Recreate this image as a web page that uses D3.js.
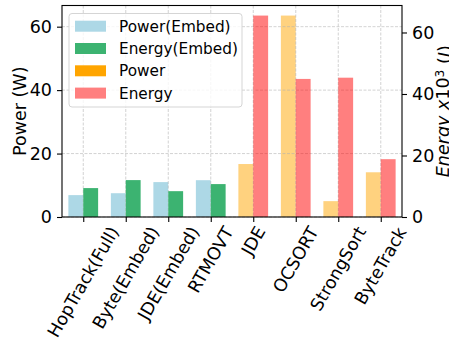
<!DOCTYPE html>
<html>
<head>
<meta charset="utf-8">
<script src="https://cdn.jsdelivr.net/npm/d3@7"></script>
<style>
  html, body { margin: 0; padding: 0; background: #fff; }
  svg { display: block; }
  text { font-family: "DejaVu Sans", sans-serif; fill: #000; }
</style>
</head>
<body>
<svg id="chart" width="449" height="344"></svg>
<script>
// ---- data ----
const categories = ["HopTrack(Full)", "Byte(Embed)", "JDE(Embed)", "RTMOVT", "JDE", "OCSORT", "StrongSort", "ByteTrack"];
const power  = [6.9, 7.5, 11.0, 11.6, 16.7, 63.5, 5.0, 14.1];     // W (left axis)
const energy = [9.4, 12.0, 8.4, 10.7, 65.5, 44.9, 45.3, 18.8];    // x10^3 J (right axis)
const isEmbed = [true, true, true, true, false, false, false, false];
const leftTicks = [0, 20, 40, 60];
const rightTicks = [0, 20, 40, 60];
const legendLabels = ["Power(Embed)", "Energy(Embed)", "Power", "Energy"];

// ---- styles ----
const colPowerEmbed = "#add8e6", colEnergyEmbed = "#3cb371";
const colPower = "#ffa500", colEnergy = "#ff0000";
const legendColors = ["#add8e6", "#3cb371", "#ffa500", "#ff7f7f"];

const W = 449, H = 344;
const L = 62, R = 402, T = 5.5, B = 217;
const barW = 0.35;
const fs = 17.5, legendFs = 15.3;

const svg = d3.select("#chart");

const x = d3.scaleLinear().domain([-0.5, categories.length - 0.5]).range([L, R]);
const yL = d3.scaleLinear().domain([0, d3.max(power) * 1.05]).range([B, T]);
const yR = d3.scaleLinear().domain([0, d3.max(energy) * 1.05]).range([B, T]);

// power bars (below grid)
svg.append("g").selectAll("rect").data(power).join("rect")
  .attr("x", (d, i) => x(i - barW))
  .attr("width", (d, i) => x(i) - x(i - barW))
  .attr("y", d => yL(d))
  .attr("height", d => B - yL(d))
  .attr("fill", (d, i) => isEmbed[i] ? colPowerEmbed : colPower)
  .attr("fill-opacity", (d, i) => isEmbed[i] ? 1 : 0.5);

// grid
const grid = svg.append("g").attr("stroke", "#b0b0b0").attr("stroke-opacity", 0.7)
  .attr("stroke-width", 0.8).attr("stroke-dasharray", "3,1.5");
grid.selectAll("line.gx").data(d3.range(categories.length)).join("line").attr("class", "gx")
  .attr("x1", d => x(d)).attr("x2", d => x(d)).attr("y1", T).attr("y2", B);
grid.selectAll("line.gy").data(leftTicks).join("line").attr("class", "gy")
  .attr("x1", L).attr("x2", R).attr("y1", d => yL(d)).attr("y2", d => yL(d));

// energy bars
svg.append("g").selectAll("rect").data(energy).join("rect")
  .attr("x", (d, i) => x(i))
  .attr("width", (d, i) => x(i + barW) - x(i))
  .attr("y", d => yR(d))
  .attr("height", d => B - yR(d))
  .attr("fill", (d, i) => isEmbed[i] ? colEnergyEmbed : colEnergy)
  .attr("fill-opacity", (d, i) => isEmbed[i] ? 1 : 0.5);

// axes
function styleAxis(g) {
  g.select(".domain").remove();
  g.selectAll(".tick line").attr("stroke", "#000").attr("stroke-width", 1.1);
  g.selectAll(".tick text").style("font-family", "DejaVu Sans").style("font-size", fs + "px").attr("fill", "#000");
}
svg.append("g").attr("transform", `translate(${L},0)`)
  .call(d3.axisLeft(yL).tickValues(leftTicks).tickSize(5).tickPadding(5).tickFormat(d3.format("d")))
  .call(styleAxis);
svg.append("g").attr("transform", `translate(${R},0)`)
  .call(d3.axisRight(yR).tickValues(rightTicks).tickSize(5).tickPadding(5).tickFormat(d3.format("d")))
  .call(styleAxis);
const xAxis = svg.append("g").attr("transform", `translate(0,${B})`)
  .call(d3.axisBottom(x).tickValues(d3.range(categories.length)).tickSize(5).tickFormat(""))
  .call(styleAxis);

// rotated x labels: bbox centred on tick, top below tick
categories.forEach((c, i) => {
  const g = svg.append("g");
  g.append("text").attr("transform", "rotate(-60)")
    .style("font-size", fs + "px").text(c);
  const bb = g.node().getBBox();
  g.attr("transform", `translate(${x(i) - (bb.x + bb.width / 2)},${223 - bb.y})`);
});

// spines
svg.append("rect").attr("x", L).attr("y", T).attr("width", R - L).attr("height", B - T)
  .attr("fill", "none").attr("stroke", "#000").attr("stroke-width", 1.1);

// axis labels
svg.append("text").attr("transform", `translate(26,${(T + B) / 2}) rotate(-90)`)
  .attr("text-anchor", "middle").style("font-size", fs + "px").text("Power (W)");
const rl = svg.append("text").attr("transform", `translate(449,${(T + B) / 2}) rotate(-90)`)
  .attr("text-anchor", "middle").style("font-size", fs + "px");
rl.append("tspan").style("font-style", "italic").text("Energy x");
rl.append("tspan").text("10");
rl.append("tspan").attr("dy", "-0.45em").style("font-size", (fs * 0.7) + "px").text("3");
rl.append("tspan").attr("dy", "0.45em").text(" (");
rl.append("tspan").style("font-style", "italic").text("J");
rl.append("tspan").text(")");

// legend
const lg = svg.append("g");
lg.append("rect").attr("x", 69).attr("y", 13.5).attr("width", 173).attr("height", 93.5).attr("rx", 3)
  .attr("fill", "#fff").attr("fill-opacity", 0.8).attr("stroke", "#d5d5d5").attr("stroke-width", 1);
legendLabels.forEach((lab, i) => {
  const yc = 26.2 + i * 22.3;
  lg.append("rect").attr("x", 75).attr("y", yc - 5.5).attr("width", 31).attr("height", 11)
    .attr("fill", legendColors[i]);
  lg.append("text").attr("x", 119).attr("y", yc).attr("dy", "0.36em")
    .style("font-size", legendFs + "px").text(lab);
});
</script>
</body>
</html>
